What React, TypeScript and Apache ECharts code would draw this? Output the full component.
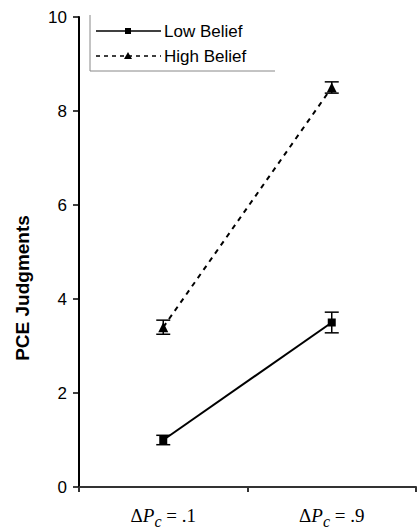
import React, { useEffect, useRef } from "react";
import * as echarts from "echarts";

const categories = [".1", ".9"];
const lowBelief = [1.0, 3.5];
const lowErr = [0.1, 0.22];
const highBelief = [3.4, 8.5];
const highErr = [0.15, 0.12];
const yTicks = [0, 2, 4, 6, 8, 10];

function errData(vals: number[], errs: number[]) {
  return vals.map((v, i) => [i, v - errs[i], v + errs[i]]);
}

const renderErr = (params: any, api: any) => {
  const x = api.value(0);
  const lo = api.coord([x, api.value(1)]);
  const hi = api.coord([x, api.value(2)]);
  const hw = 7;
  const style = { stroke: "#000", lineWidth: 1.5 };
  return {
    type: "group",
    children: [
      { type: "line", shape: { x1: lo[0], y1: lo[1], x2: hi[0], y2: hi[1] }, style },
      { type: "line", shape: { x1: lo[0] - hw, y1: lo[1], x2: lo[0] + hw, y2: lo[1] }, style },
      { type: "line", shape: { x1: hi[0] - hw, y1: hi[1], x2: hi[0] + hw, y2: hi[1] }, style },
    ],
  };
};

export default function App() {
  const ref = useRef<HTMLDivElement>(null);
  useEffect(() => {
    const chart = echarts.init(ref.current!, undefined, { renderer: "svg" });
    const legendX = 90;
    chart.setOption({
      animation: false,
      grid: { left: 79, top: 17, right: 2, bottom: 44 },
      xAxis: {
        type: "category",
        data: categories,
        boundaryGap: true,
        axisLine: { lineStyle: { color: "#333", width: 2 } },
        axisTick: { show: true, length: 5, lineStyle: { color: "#333", width: 2 } },
        axisLabel: {
          margin: 14,
          formatter: (v: string) => `{d|Δ}{p|P}{c|c}{d| = ${v}}`,
          rich: {
            d: { fontFamily: "Liberation Serif", fontSize: 19, color: "#000" },
            p: { fontFamily: "Liberation Serif", fontSize: 19, fontStyle: "italic", color: "#000" },
            c: { fontFamily: "Liberation Serif", fontSize: 16, fontStyle: "italic", color: "#000", padding: [12, 0, 0, 0] },
          },
        },
      },
      yAxis: {
        type: "value",
        min: 0,
        max: 10,
        interval: 2,
        axisLine: { show: true, lineStyle: { color: "#000", width: 2 } },
        axisTick: { show: true, length: 6, lineStyle: { color: "#000", width: 1.5 } },
        splitLine: { show: false },
        axisLabel: {
          margin: 12,
          fontFamily: "Liberation Sans",
          fontSize: 17,
          color: "#000",
          formatter: (v: number) => (yTicks.includes(v) ? String(v) : ""),
        },
      },
      series: [
        {
          name: "Low Belief",
          type: "line",
          data: lowBelief,
          symbol: "rect",
          symbolSize: 8,
          itemStyle: { color: "#000" },
          lineStyle: { color: "#000", width: 2 },
          z: 3,
        },
        {
          name: "High Belief",
          type: "line",
          data: highBelief,
          symbol: "triangle",
          symbolSize: 10,
          itemStyle: { color: "#000" },
          lineStyle: { color: "#000", width: 2, type: [5, 5] },
          z: 3,
        },
        { type: "custom", renderItem: renderErr, data: errData(lowBelief, lowErr), z: 4 },
        { type: "custom", renderItem: renderErr, data: errData(highBelief, highErr), z: 4 },
      ],
      graphic: [
        {
          type: "text",
          rotation: Math.PI / 2,
          x: 22,
          y: 288,
          style: {
            text: "PCE Judgments",
            align: "center",
            verticalAlign: "middle",
            fontFamily: "Liberation Sans",
            fontWeight: "bold",
            fontSize: 19,
            fill: "#000",
          },
        },
        {
          type: "polyline",
          shape: { points: [[legendX, 15], [legendX, 71], [275, 71]] },
          style: { stroke: "#888", lineWidth: 1, fill: "none" },
        },
        { type: "line", shape: { x1: 96, y1: 31, x2: 161, y2: 31 }, style: { stroke: "#000", lineWidth: 1.5 } },
        { type: "rect", shape: { x: 125, y: 28, width: 6, height: 6 }, style: { fill: "#000" } },
        {
          type: "text",
          style: { text: "Low Belief", x: 164, y: 31, verticalAlign: "middle", fontFamily: "Liberation Sans", fontSize: 17, fill: "#000" },
        },
        { type: "line", shape: { x1: 96, y1: 56, x2: 161, y2: 56 }, style: { stroke: "#000", lineWidth: 1.5, lineDash: [4, 4] } },
        { type: "polygon", shape: { points: [[128, 52], [124, 59], [132, 59]] }, style: { fill: "#000" } },
        {
          type: "text",
          style: { text: "High Belief", x: 164, y: 56, verticalAlign: "middle", fontFamily: "Liberation Sans", fontSize: 17, fill: "#000" },
        },
      ],
    });
    return () => chart.dispose();
  }, []);
  return <div ref={ref} style={{ width: 418, height: 531, position: "absolute", left: 0, top: 0 }} />;
}
